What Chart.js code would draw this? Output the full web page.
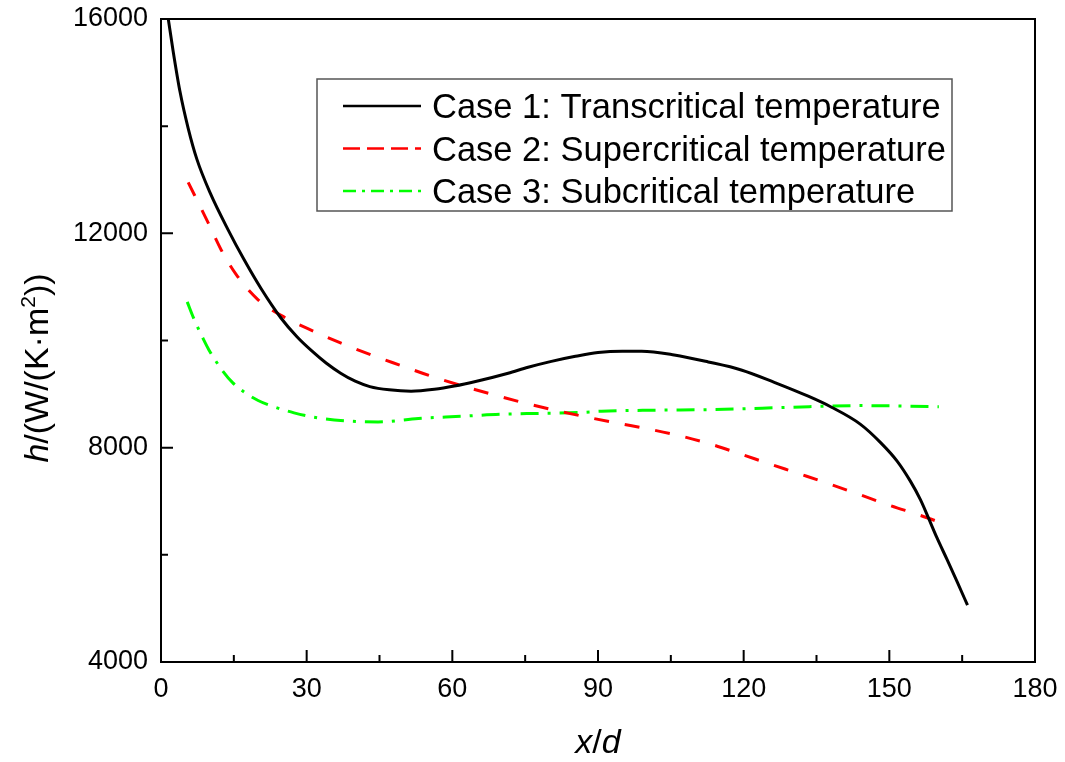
<!DOCTYPE html>
<html>
<head>
<meta charset="utf-8">
<script src="https://cdn.jsdelivr.net/npm/chart.js@4.4.1/dist/chart.umd.min.js"></script>
<style>
  html, body { margin: 0; padding: 0; background: #fff; }
  #wrap { width: 1065px; height: 762px; }
</style>
</head>
<body>
<div id="wrap"><canvas id="c" width="1065" height="762"></canvas></div>
<script>
// Heat transfer coefficient along the tube, three wall-temperature cases
const seriesNames = [
  'Case 1: Transcritical temperature',
  'Case 2: Supercritical temperature',
  'Case 3: Subcritical temperature'
];

const case1X = [1.5, 2.5, 3.9, 5.6, 7.4, 10.1, 13.8, 17.1, 20.6, 24.7, 28.0, 31.0, 34.0, 37.0, 40.0, 43.0, 47.0, 51.5, 56.3, 60.4, 65.0, 71.5, 75.6, 80.4, 85.1, 90.0, 95.0, 99.0, 105.7, 112.7, 119.5, 126.3, 133.3, 138.1, 144.0, 148.2, 151.6, 154.3, 156.4, 158.1, 159.8, 161.9, 164.0, 166.1];
const case1Y = [16000, 15400, 14650, 13960, 13380, 12760, 12070, 11510, 10970, 10420, 10070, 9810, 9580, 9390, 9240, 9140, 9080, 9055, 9090, 9150, 9240, 9390, 9500, 9610, 9700, 9775, 9800, 9800, 9730, 9600, 9450, 9220, 8960, 8755, 8440, 8095, 7750, 7380, 7030, 6680, 6320, 5910, 5490, 5060];

const case2X = [5.6, 9.7, 12.4, 15.5, 20.0, 25.3, 31.5, 37.1, 43.3, 49.5, 55.6, 61.8, 68.6, 74.8, 81.0, 88.0, 94.2, 100.3, 106.5, 112.7, 118.9, 125.1, 131.9, 138.1, 144.0, 150.0, 156.6, 161.1];
const case2Y = [12950, 12200, 11690, 11230, 10760, 10440, 10170, 9950, 9730, 9530, 9335, 9160, 8985, 8835, 8700, 8565, 8455, 8350, 8230, 8080, 7895, 7705, 7500, 7310, 7120, 6925, 6730, 6583];

const case3X = [5.4, 6.8, 8.7, 9.9, 12.8, 14.8, 17.1, 20.0, 22.7, 27.4, 32.3, 38.0, 44.7, 53.0, 61.8, 70.1, 78.3, 87.2, 90.7, 102.4, 116.0, 129.8, 144.0, 160.2];
const case3Y = [10720, 10400, 10030, 9820, 9420, 9210, 9040, 8880, 8780, 8650, 8555, 8500, 8480, 8545, 8585, 8625, 8640, 8660, 8680, 8700, 8715, 8755, 8785, 8765];

// Axis ticks
const xTickValues = [0, 30, 60, 90, 120, 150, 180];
const yTickValues = [4000, 8000, 12000, 16000];

const FONT = "'Liberation Sans', Arial, sans-serif";

function pts(xs, ys) {
  return xs.map((x, i) => ({ x: x, y: ys[i] }));
}

// Frame and inward-pointing tick marks on the bottom and left axes
const frameTicks = {
  id: 'frameTicks',
  afterDraw(chart) {
    const { ctx, chartArea: a, scales } = chart;
    const xs = scales.x, ys = scales.y;
    ctx.save();
    ctx.strokeStyle = '#000';
    ctx.lineWidth = 2;
    ctx.strokeRect(a.left, a.top, a.right - a.left, a.bottom - a.top);
    ctx.beginPath();
    const xv = xs.ticks.map(t => t.value);
    xv.forEach((v, i) => {
      const p = xs.getPixelForValue(v);
      ctx.moveTo(p, a.bottom); ctx.lineTo(p, a.bottom - 12);
      if (i < xv.length - 1) {
        const m = xs.getPixelForValue((v + xv[i + 1]) / 2);
        ctx.moveTo(m, a.bottom); ctx.lineTo(m, a.bottom - 7);
      }
    });
    const yv = ys.ticks.map(t => t.value);
    yv.forEach((v, i) => {
      const p = ys.getPixelForValue(v);
      ctx.moveTo(a.left, p); ctx.lineTo(a.left + 12, p);
      if (i < yv.length - 1) {
        const m = ys.getPixelForValue((v + yv[i + 1]) / 2);
        ctx.moveTo(a.left, m); ctx.lineTo(a.left + 7, m);
      }
    });
    ctx.stroke();
    ctx.restore();
  }
};

// Axis titles with italic symbols and a superscript
const axisTitles = {
  id: 'axisTitles',
  afterDraw(chart) {
    const { ctx, chartArea: a } = chart;
    ctx.save();
    ctx.fillStyle = '#000';
    ctx.textBaseline = 'alphabetic';
    const reg = '34px ' + FONT, ital = 'italic 34px ' + FONT, sup = '21px ' + FONT;

    // x/d
    const xParts = [['x', ital, 0], ['/', reg, 0], ['d', ital, 0]];
    drawParts(ctx, xParts, (a.left + a.right) / 2, 753);

    // h/(W/(K·m²))
    ctx.translate(48, 368);
    ctx.rotate(-Math.PI / 2);
    const yParts = [['h', ital, 0], ['/(W/(K\u00B7m', reg, 0], ['2', sup, -13], ['))', reg, 0]];
    drawParts(ctx, yParts, 0, 0);
    ctx.restore();
  }
};

function drawParts(ctx, parts, cx, baseY) {
  let total = 0;
  parts.forEach(p => { ctx.font = p[1]; total += ctx.measureText(p[0]).width; });
  let x = cx - total / 2;
  ctx.textAlign = 'left';
  parts.forEach(p => {
    ctx.font = p[1];
    ctx.fillText(p[0], x, baseY + p[2]);
    x += ctx.measureText(p[0]).width;
  });
}

// Boxed legend inside the plot area
const boxLegend = {
  id: 'boxLegend',
  afterDraw(chart) {
    const { ctx } = chart;
    const box = { l: 317, t: 79, r: 952, b: 211 };
    ctx.save();
    ctx.fillStyle = '#fff';
    ctx.fillRect(box.l, box.t, box.r - box.l, box.b - box.t);
    ctx.strokeStyle = '#555';
    ctx.lineWidth = 1.5;
    ctx.strokeRect(box.l, box.t, box.r - box.l, box.b - box.t);
    chart.data.datasets.forEach((ds, i) => {
      const y = 106 + i * 42.5;
      ctx.beginPath();
      ctx.strokeStyle = ds.borderColor;
      ctx.lineWidth = 2.5;
      ctx.setLineDash(ds.legendDash || []);
      ctx.moveTo(343, y); ctx.lineTo(421, y);
      ctx.stroke();
      ctx.setLineDash([]);
      ctx.fillStyle = '#000';
      ctx.font = '34.5px ' + FONT;
      ctx.textAlign = 'left';
      ctx.textBaseline = 'alphabetic';
      ctx.fillText(ds.label, 432, y + 12);
    });
    ctx.restore();
  }
};

const common = {
  showLine: true,
  pointRadius: 0,
  borderWidth: 3,
  cubicInterpolationMode: 'monotone',
  fill: false
};

new Chart(document.getElementById('c'), {
  type: 'scatter',
  data: {
    datasets: [
      Object.assign({}, common, { label: seriesNames[0], data: pts(case1X, case1Y), borderColor: '#000000', legendDash: [] }),
      Object.assign({}, common, { label: seriesNames[1], data: pts(case2X, case2Y), borderColor: '#ff0000', borderDash: [15, 16], legendDash: [17, 7] }),
      Object.assign({}, common, { label: seriesNames[2], data: pts(case3X, case3Y), borderColor: '#00ff00', borderDash: [18, 9, 3, 9], legendDash: [13, 6, 3, 6] })
    ]
  },
  options: {
    responsive: false,
    animation: false,
    devicePixelRatio: 1,
    layout: { padding: { top: 19, right: 30, left: 0, bottom: 0 } },
    plugins: { legend: { display: false }, tooltip: { enabled: false } },
    scales: {
      x: {
        type: 'linear',
        min: xTickValues[0],
        max: xTickValues[xTickValues.length - 1],
        ticks: { stepSize: xTickValues[1] - xTickValues[0], color: '#000', font: { family: FONT, size: 27 }, padding: 11, maxRotation: 0, callback: v => String(v) },
        grid: { display: false, drawTicks: false },
        border: { display: false },
        afterFit(s) { s.height = 100; s.paddingLeft = 0; s.paddingRight = 0; }
      },
      y: {
        type: 'linear',
        min: yTickValues[0],
        max: yTickValues[yTickValues.length - 1],
        ticks: { stepSize: yTickValues[1] - yTickValues[0], color: '#000', font: { family: FONT, size: 27 }, padding: 13, callback: v => String(v) },
        grid: { display: false, drawTicks: false },
        border: { display: false },
        afterFit(s) { s.width = 161; s.paddingTop = 0; s.paddingBottom = 0; }
      }
    }
  },
  plugins: [frameTicks, axisTitles, boxLegend]
});
</script>
</body>
</html>
